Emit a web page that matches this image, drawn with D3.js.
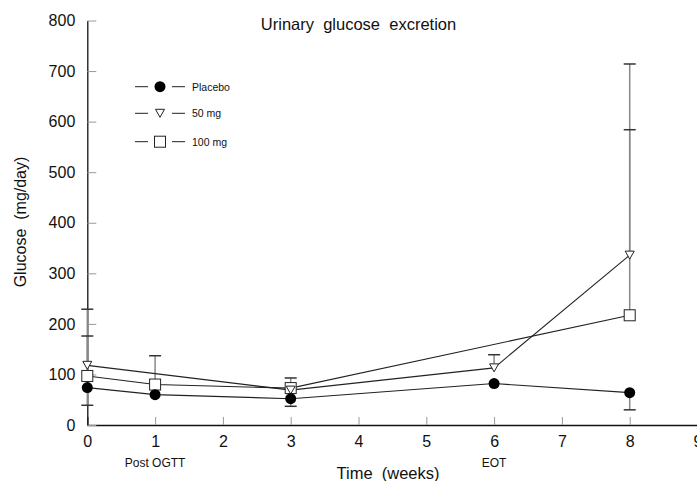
<!DOCTYPE html>
<html>
<head>
<meta charset="utf-8">
<script src="https://cdn.jsdelivr.net/npm/d3@7"></script>
<style>
  body { margin: 0; background: #fff; }
  text { font-family: "Liberation Sans", Arial, sans-serif; fill: #111; }
</style>
</head>
<body>
<svg id="chart" width="697" height="481"></svg>
<script>
// data
var weeks = [0, 1, 3, 6, 8]
var placebo   = [74, 60, 52, 82, 64]
var placeboLo = [39, null, 37, null, 30]
var mg50      = [118, null, 69, 113, 336]
var mg50Hi    = [229, null, 93, 139, 714]
var mg100     = [97, 80, 73, null, 217]
var mg100Hi   = [176, 137, null, null, 584]
var xTicks = [0, 1, 2, 3, 4, 5, 6, 7, 8, 9]
var yTicks = [0, 100, 200, 300, 400, 500, 600, 700, 800]
var xNotes = [{w: 1, label: "Post OGTT"}, {w: 6, label: "EOT"}]

var svg = d3.select("#chart"),
    margin = {top: 20.5, right: 0, bottom: 56, left: 87.3},
    width = +svg.attr("width") - margin.left - margin.right,
    height = +svg.attr("height") - margin.top - margin.bottom;

const g = svg.append("g")
    .attr("transform", "translate(" + margin.left + "," + margin.top + ")");

const x = d3.scaleLinear().domain([0, 9]).range([0, 610.2])
const y = d3.scaleLinear().domain([0, 800]).range([height, 0])

// axes, ticks point inwards
const xAxis = g.append("g")
    .attr("transform", "translate(0," + height + ")")
    .call(d3.axisBottom(x).tickValues(xTicks).tickSize(-8).tickPadding(11).tickFormat(d3.format("d")))
xAxis.select(".domain").attr("stroke", "#111").attr("stroke-width", 1.3)
xAxis.selectAll(".tick line").attr("stroke", "#999")
xAxis.selectAll("text").style("font-size", "16px").attr("fill", "#111")

const yAxis = g.append("g")
    .call(d3.axisLeft(y).tickValues(yTicks).tickSize(-9).tickPadding(12).tickSizeOuter(0))
yAxis.select(".domain").attr("stroke", "#111").attr("stroke-width", 1.3)
yAxis.selectAll(".tick line").attr("stroke", "#999")
yAxis.selectAll("text").style("font-size", "16px").attr("fill", "#111")

// series
function pts(vals) {
  return weeks.map((w, i) => ({w: w, v: vals[i]})).filter(d => d.v != null)
}
const line = d3.line().x(d => x(d.w)).y(d => y(d.v))

const series = [
  {name: "Placebo", vals: placebo, hi: null, lo: placeboLo, sym: "circle"},
  {name: "50 mg", vals: mg50, hi: mg50Hi, lo: null, sym: "tri"},
  {name: "100 mg", vals: mg100, hi: mg100Hi, lo: null, sym: "square"}
]

// error bars
series.forEach(s => {
  [s.hi, s.lo].forEach(err => {
    if (!err) return
    const e = weeks.map((w, i) => ({w: w, v: s.vals[i], e: err[i]})).filter(d => d.e != null && d.v != null)
    const eb = g.append("g")
    eb.selectAll("line.stem").data(e).join("line")
      .attr("class", "stem")
      .attr("x1", d => x(d.w)).attr("x2", d => x(d.w))
      .attr("y1", d => y(d.v)).attr("y2", d => y(d.e))
      .attr("stroke", "#888").attr("stroke-width", 1.5)
    eb.selectAll("line.cap").data(e).join("line")
      .attr("class", "cap")
      .attr("x1", d => x(d.w) - 6).attr("x2", d => x(d.w) + 6)
      .attr("y1", d => y(d.e)).attr("y2", d => y(d.e))
      .attr("stroke", "#333").attr("stroke-width", 1.5)
  })
})

series.forEach(s => {
  g.append("path").datum(pts(s.vals))
    .attr("d", line)
    .attr("fill", "none").attr("stroke", "#222").attr("stroke-width", 1.1)
})

function drawSym(sel, sym) {
  if (sym === "circle") {
    sel.append("circle").attr("r", 5.5).attr("fill", "#000")
  } else if (sym === "tri") {
    sel.append("path").attr("d", "M-4.5,-4 L4.5,-4 L0,4 Z")
      .attr("fill", "#fff").attr("stroke", "#222").attr("stroke-width", 1)
  } else {
    sel.append("rect").attr("x", -5.5).attr("y", -5.5).attr("width", 11).attr("height", 11)
      .attr("fill", "#fff").attr("stroke", "#222").attr("stroke-width", 1)
  }
}

series.slice().reverse().forEach(s => {
  g.append("g").selectAll("g").data(pts(s.vals)).join("g")
    .attr("transform", d => "translate(" + x(d.w) + "," + y(d.v) + ")")
    .call(sel => drawSym(sel, s.sym))
})

// legend
const legend = svg.append("g")
const rows = [86.7, 113.3, 141.7]
series.forEach((s, i) => {
  const r = legend.append("g").attr("transform", "translate(160," + rows[i] + ")")
  r.append("line").attr("x1", -25).attr("x2", -12).attr("stroke", "#222")
  r.append("line").attr("x1", 12).attr("x2", 25).attr("stroke", "#222")
  drawSym(r, s.sym)
  r.append("text").attr("x", 32).attr("y", 4).style("font-size", "10.5px").text(s.name)
})

// titles
svg.append("text").attr("x", 358.5).attr("y", 29.5).attr("text-anchor", "middle")
  .attr("xml:space", "preserve").style("font-size", "16.5px")
  .text("Urinary  glucose  excretion")
svg.append("text").attr("x", 388).attr("y", 479).attr("text-anchor", "middle")
  .attr("xml:space", "preserve").style("font-size", "16.5px")
  .text("Time  (weeks)")
svg.append("text").attr("transform", "translate(26,222) rotate(-90)").attr("text-anchor", "middle")
  .attr("xml:space", "preserve").style("font-size", "16px")
  .text("Glucose  (mg/day)")

xNotes.forEach(n => {
  svg.append("text").attr("x", margin.left + x(n.w)).attr("y", 467).attr("text-anchor", "middle")
    .style("font-size", "12px").text(n.label)
})
</script>
</body>
</html>
